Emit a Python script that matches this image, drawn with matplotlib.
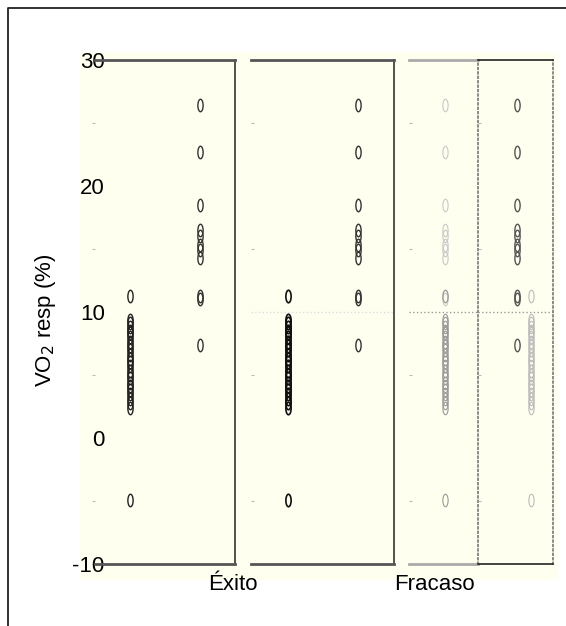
import matplotlib
matplotlib.use("Agg")
import matplotlib.pyplot as plt
import numpy as np
from matplotlib.path import Path
from matplotlib.patches import Rectangle
from matplotlib.lines import Line2D

plt.rcParams['font.family'] = ['Liberation Sans', 'DejaVu Sans']
plt.rcParams['axes.unicode_minus'] = False

# data
groups = ['Éxito', 'Fracaso']
col_a = [11.3, 9.4, 9.1, 8.8, 8.5, 8.3, 8.0, 7.6, 7.3, 7.0, 6.6, 6.3, 6.0, 5.7,
         5.3, 5.0, 4.8, 4.4, 4.1, 3.8, 3.5, 3.1, 2.8, 2.4, -4.9]
col_b = [26.4, 22.7, 18.5, 16.5, 16.0, 15.3, 14.9, 14.3, 11.3, 11.0, 7.4]
yticks = [30, 20, 10, 0, -10]
minor_ticks = [25, 15, 5, -5]
ref_line = 10

W, H = 566, 626
fig = plt.figure(figsize=(W / 100, H / 100), dpi=100)
cream = '#fffff0'


def fx(px):
    return px / W


def fy(py):
    return 1 - py / H


# cream background and outer frame
fig.add_artist(Rectangle((fx(80), fy(580)), fx(558) - fx(80), fy(52) - fy(580),
                         transform=fig.transFigure, facecolor=cream, edgecolor='none', zorder=0))
fig.add_artist(Line2D([fx(8), fx(8), 1.0], [0, fy(8), fy(8)], transform=fig.transFigure,
                      color='#222222', lw=1.3))

ellipse = Path(Path.unit_circle().vertices * [0.42, 1.0], Path.unit_circle().codes)
bottom, top = 564, 60


def panel(left, right):
    ax = fig.add_axes([fx(left), fy(bottom), fx(right) - fx(left), fy(top) - fy(bottom)])
    ax.set_facecolor('none')
    ax.set_xlim(0, 1)
    ax.set_ylim(-10, 30)
    ax.set_xticks([])
    ax.set_yticks(yticks)
    ax.set_yticks(minor_ticks, minor=True)
    ax.tick_params(axis='y', which='major', length=0, labelleft=False)
    ax.tick_params(axis='y', which='minor', length=2, direction='in', color='#bbbbbb', width=0.8)
    ax.spines['left'].set_visible(False)
    return ax


def dots(ax, x, vals, color, lw=1.0):
    ax.plot([x] * len(vals), vals, linestyle='none', marker=ellipse, markersize=9,
            markerfacecolor='none', markeredgecolor=color, markeredgewidth=lw)


# panel 1
ax1 = panel(95, 235)
ax1.tick_params(axis='y', which='major', labelleft=True, pad=-7, labelsize=16)
ax1.tick_params(axis='y', which='minor', direction='out')
dots(ax1, 0.25, col_a, '#222222')
dots(ax1, 0.75, col_b, '#333333')

# panel 2
ax2 = panel(251, 394)
ax2.axhline(ref_line, color='#dddddd', lw=1, ls=':')
dots(ax2, 0.26, col_a, '#111111', lw=1.2)
dots(ax2, 0.75, col_b, '#333333')

for ax in (ax1, ax2):
    for s in ('top', 'bottom'):
        ax.spines[s].set_color('#555555')
        ax.spines[s].set_linewidth(2)
    ax.spines['right'].set_color('#333333')
    ax.spines['right'].set_linewidth(1.2)

# panel 3, split by a dotted line
ax3 = panel(409, 478)
ax3.axhline(ref_line, color='#999999', lw=1, ls=':')
dots(ax3, 0.52, col_b, '#c8c8c8', lw=0.8)
dots(ax3, 0.52, col_a, '#999999', lw=0.8)
ax4 = panel(478, 553)
ax4.axhline(ref_line, color='#999999', lw=1, ls=':')
dots(ax4, 0.52, col_b, '#555555')
dots(ax4, 0.70, col_a, '#bbbbbb', lw=0.8)
for s in ('top', 'bottom'):
    ax3.spines[s].set_color('#aaaaaa')
    ax3.spines[s].set_linewidth(2)
    ax4.spines[s].set_color('#222222')
    ax4.spines[s].set_linewidth(1.2)
for ax in (ax3, ax4):
    ax.spines['right'].set_color('#777777')
    ax.spines['right'].set_linestyle(':')
    ax.spines['right'].set_linewidth(1.2)

# labels
fig.text(fx(45), fy(320), 'VO$_2$ resp (%)', rotation=90, ha='center', va='center', fontsize=16)
for name, px in zip(groups, [233, 434]):
    fig.text(fx(px), fy(584), name, ha='center', va='center', fontsize=16)

fig.savefig('out.png', dpi=100)
